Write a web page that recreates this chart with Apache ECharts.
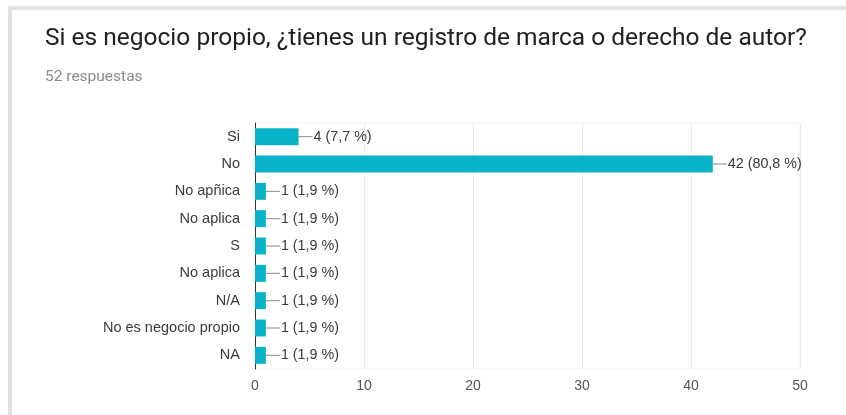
<!DOCTYPE html>
<html>
<head>
<meta charset="utf-8">
<script src="https://cdn.jsdelivr.net/npm/echarts@6/dist/echarts.min.js"></script>
<style>
  html, body { margin: 0; padding: 0; background: #fff; }
  #chart { width: 846px; height: 415px; }
</style>
</head>
<body>
<div id="chart"></div>
<script>
// Survey answers (top to bottom) and their response counts
const categories = ['Si', 'No', 'No apñica', 'No aplica', 'S', 'No aplica', 'N/A', 'No es negocio propio', 'NA'];
const counts = [4, 42, 1, 1, 1, 1, 1, 1, 1];
const percents = ['7,7', '80,8', '1,9', '1,9', '1,9', '1,9', '1,9', '1,9', '1,9'];
const xTicks = [0, 10, 20, 30, 40, 50];
const totalResponses = 52;

const LABEL_FONT = '"Liberation Sans", Arial, sans-serif';

const chart = echarts.init(document.getElementById('chart'), null, { renderer: 'canvas' });

// category axis runs bottom-up in ECharts, so reverse to list answers top-down
const yCats = categories.map((c, i) => i + '|' + c).reverse();
const yVals = counts.slice().reverse();
const yPct = percents.slice().reverse();

chart.setOption({
  backgroundColor: '#fff',
  animation: false,
  graphic: [
    { type: 'rect', shape: { x: 8, y: 6, width: 838, height: 4 }, style: { fill: '#e2e2e2' }, silent: true },
    { type: 'rect', shape: { x: 8, y: 6, width: 4, height: 409 }, style: { fill: '#e2e2e2' }, silent: true }
  ],
  title: {
    text: 'Si es negocio propio, ¿tienes un registro de marca o derecho de autor?',
    subtext: totalResponses + ' respuestas',
    left: 40,
    top: 21,
    itemGap: 18,
    textStyle: { fontFamily: 'Roboto', fontSize: 24.5, fontWeight: 'normal', color: '#212121' },
    subtextStyle: { fontFamily: 'Roboto', fontSize: 15.5, color: '#8a8a8a' }
  },
  grid: {
    left: 255, right: 46, top: 123, bottom: 46,
    show: true, borderColor: '#f2f2f2', borderWidth: 1
  },
  xAxis: {
    type: 'value',
    min: xTicks[0],
    max: xTicks[xTicks.length - 1],
    interval: 10,
    axisLine: { show: false },
    axisTick: { show: false },
    splitLine: { lineStyle: { color: '#ebebeb', width: 1 } },
    axisLabel: { fontFamily: LABEL_FONT, fontSize: 14, color: '#555', margin: 10 }
  },
  yAxis: {
    type: 'category',
    data: yCats,
    axisLine: { show: true, lineStyle: { color: '#333', width: 1 } },
    axisTick: { show: false },
    splitLine: { show: false },
    axisLabel: {
      fontFamily: LABEL_FONT, fontSize: 14.5, color: '#3a3a3a', margin: 15,
      formatter: v => v.split('|')[1]
    }
  },
  series: [{
    type: 'bar',
    data: yVals,
    barWidth: 17,
    itemStyle: { color: '#08b3ca' },
    label: {
      show: true,
      position: 'right',
      distance: 0,
      fontFamily: LABEL_FONT,
      fontSize: 14.3,
      color: '#3a3a3a',
      formatter: p => '{ln|}{t|' + p.value + ' (' + yPct[p.dataIndex] + ' %)}',
      rich: {
        ln: { width: 14, height: 1, backgroundColor: '#888' },
        t: { fontFamily: LABEL_FONT, fontSize: 14.3, color: '#3a3a3a', padding: [0, 0, 0, 1] }
      }
    }
  }]
});
</script>
</body>
</html>
